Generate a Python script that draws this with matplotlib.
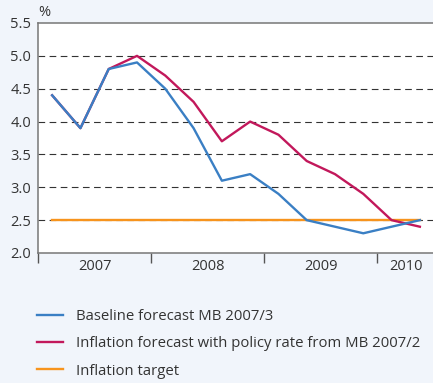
import numpy as np
import matplotlib.pyplot as plt
from matplotlib.lines import Line2D

plt.rcParams['font.family'] = ['Open Sans', 'DejaVu Sans']

# quarterly, 2007Q1 .. 2010Q2
baseline = [4.4, 3.9, 4.8, 4.9, 4.5, 3.9, 3.1, 3.2, 2.9, 2.5, 2.4, 2.3, 2.4, 2.5]
policy = [4.4, 3.9, 4.8, 5.0, 4.7, 4.3, 3.7, 4.0, 3.8, 3.4, 3.2, 2.9, 2.5, 2.4]
target = [2.5] * 14
years = ["2007", "2008", "2009", "2010"]
year_quarters = [4, 4, 4, 2]

blue = "#3a7fc4"
red = "#c2185b"
orange = "#f7941d"

fig = plt.figure(figsize=(4.33, 3.83), dpi=100)
fig.patch.set_facecolor("#f1f5fb")
ax = fig.add_axes([38 / 433, 1 - 253 / 383, 396 / 433, 230 / 383])
ax.set_facecolor("white")

x = np.arange(len(baseline)) + 0.5
for g in [2.5, 3.0, 3.5, 4.0, 4.5, 5.0]:
    ax.axhline(g, color="#333333", lw=0.8, ls=(0, (6, 4)), zorder=1)
ax.plot(x, target, color=orange, lw=1.7, zorder=2)
ax.plot(x, policy, color=red, lw=1.7, zorder=3)
ax.plot(x, baseline, color=blue, lw=1.7, zorder=4)

ax.set_xlim(0, 14)
ax.set_ylim(2.0, 5.5)
ax.set_yticks(np.arange(2.0, 5.51, 0.5))
ax.set_yticklabels([f"{v:.1f}" for v in np.arange(2.0, 5.51, 0.5)], fontsize=10.5, color="#333333")
ax.tick_params(axis="y", length=0, pad=5)

edges = np.cumsum([0] + year_quarters)
ax.set_xticks(edges[:-1])
ax.set_xticklabels([])
ax.tick_params(axis="x", which="major", direction="out", length=7, width=1, color="#555555")
centers = (edges[:-1] + edges[1:]) / 2
ax.set_xticks(centers, minor=True)
ax.set_xticklabels(years, minor=True, fontsize=10.5, color="#333333")
ax.tick_params(axis="x", which="minor", length=0, pad=4)

for s in ["left", "bottom", "top"]:
    ax.spines[s].set_color("#777777")
    ax.spines[s].set_linewidth(1.1)
ax.spines["right"].set_visible(False)

fig.text(38 / 433, 1 - 12 / 383, "%", fontsize=10.5, color="#333333", va="center", ha="left")

handles = [
    Line2D([], [], color=blue, lw=1.7),
    Line2D([], [], color=red, lw=1.7),
    Line2D([], [], color=orange, lw=1.7),
]
labels = ["Baseline forecast MB 2007/3",
          "Inflation forecast with policy rate from MB 2007/2",
          "Inflation target"]
leg = fig.legend(handles, labels, loc="upper left", bbox_to_anchor=(37 / 433, 1 - 309 / 383),
                 frameon=False, fontsize=10.7, handlelength=1.75, handletextpad=0.85,
                 labelspacing=0.83, borderpad=0, borderaxespad=0, labelcolor="#333333")

fig.savefig("out.png", dpi=100, facecolor=fig.get_facecolor())
